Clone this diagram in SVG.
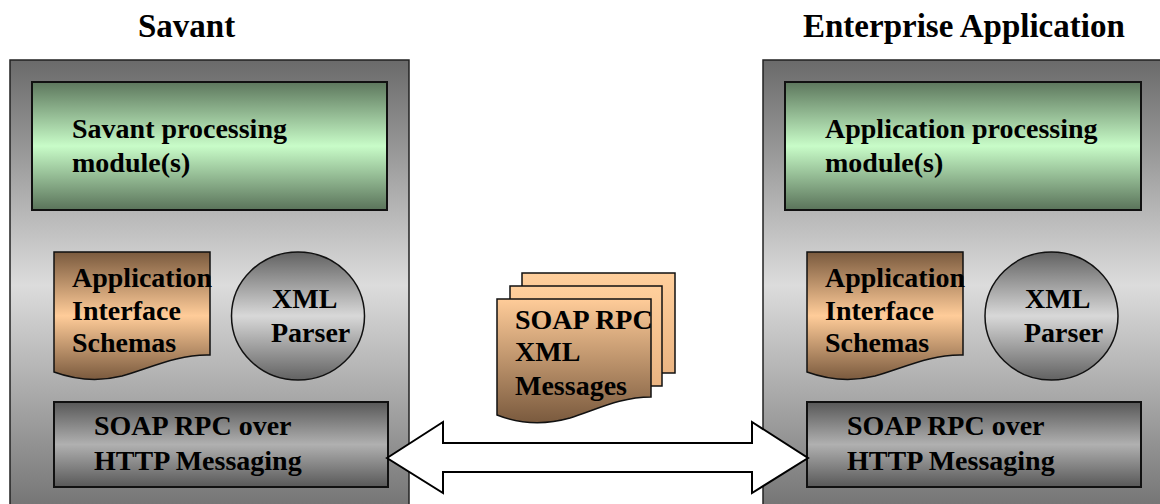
<svg xmlns="http://www.w3.org/2000/svg" width="1160" height="504" viewBox="0 0 1160 504">
  <defs>
    <linearGradient id="gOuter" x1="0" y1="0" x2="0" y2="1">
      <stop offset="0" stop-color="#6a6a6a"/>
      <stop offset="0.48" stop-color="#dcdcdc"/>
      <stop offset="1" stop-color="#6a6a6a"/>
    </linearGradient>
    <linearGradient id="gGreen" x1="0" y1="0" x2="0" y2="1">
      <stop offset="0" stop-color="#5d775d"/>
      <stop offset="0.5" stop-color="#c8fcc8"/>
      <stop offset="1" stop-color="#5a735a"/>
    </linearGradient>
    <linearGradient id="gGray" x1="0" y1="0" x2="0" y2="1">
      <stop offset="0" stop-color="#585858"/>
      <stop offset="0.5" stop-color="#b0b0b0"/>
      <stop offset="1" stop-color="#585858"/>
    </linearGradient>
    <linearGradient id="gCircle" x1="0" y1="0" x2="0" y2="1">
      <stop offset="0" stop-color="#626262"/>
      <stop offset="0.5" stop-color="#d8d8d8"/>
      <stop offset="1" stop-color="#626262"/>
    </linearGradient>
    <linearGradient id="gSchema" x1="0" y1="0" x2="0" y2="1">
      <stop offset="0" stop-color="#7a5a3e"/>
      <stop offset="0.5" stop-color="#ffcc99"/>
      <stop offset="1" stop-color="#7a5a3e"/>
    </linearGradient>
    <linearGradient id="gMsg" x1="0" y1="0" x2="0" y2="1">
      <stop offset="0" stop-color="#ffcc99"/>
      <stop offset="1" stop-color="#7a5a3e"/>
    </linearGradient>
    <linearGradient id="gMsgBack" x1="0" y1="0" x2="0" y2="1">
      <stop offset="0" stop-color="#ffcf9c"/>
      <stop offset="1" stop-color="#eab482"/>
    </linearGradient>
  </defs>
  <style>
    text { font-family: "Liberation Serif", "Times New Roman", serif; font-weight: bold; fill: #000; }
    .title { font-size: 33px; }
    .lbl { font-size: 28px; }
    .outer { fill: url(#gOuter); stroke: #222; stroke-width: 1.5; }
    .box { stroke: #111; stroke-width: 2; }
    .shape { stroke: #111; stroke-width: 1.5; }
    .arrow { fill: #fff; stroke: #000; stroke-width: 2; stroke-linejoin: miter; }
  </style>

  <rect width="1160" height="504" fill="#fff"/>

  <!-- Savant side -->
  <g id="savant">
    <text class="title" x="138" y="37">Savant</text>
    <rect class="outer" x="10" y="60" width="399" height="470"/>
  </g>
  <g id="savant-processing">
    <rect class="box" x="32" y="82" width="355" height="128" fill="url(#gGreen)"/>
    <text class="lbl" x="72" y="138">Savant processing</text>
    <text class="lbl" x="72" y="172">module(s)</text>
  </g>
  <g id="savant-schemas">
    <path class="shape" fill="url(#gSchema)" d="M54,252 H210 V355 C178,354 150,368 122,376 C98,382 76,380 54,372 Z"/>
    <text class="lbl" x="72" y="287">Application</text>
    <text class="lbl" x="72" y="320">Interface</text>
    <text class="lbl" x="72" y="352">Schemas</text>
  </g>
  <g id="savant-parser">
    <ellipse class="shape" cx="298" cy="316" rx="66.5" ry="64" fill="url(#gCircle)"/>
    <text class="lbl" x="272" y="308">XML</text>
    <text class="lbl" x="271" y="342">Parser</text>
  </g>
  <g id="savant-soap">
    <rect class="box" x="54" y="402" width="334" height="85" fill="url(#gGray)"/>
    <text class="lbl" x="94" y="435">SOAP RPC over</text>
    <text class="lbl" x="94" y="470">HTTP Messaging</text>
  </g>

  <!-- Enterprise Application side -->
  <g id="enterprise">
    <text class="title" x="803" y="37">Enterprise Application</text>
    <rect class="outer" x="763" y="60" width="410" height="470"/>
  </g>
  <g id="app-processing">
    <rect class="box" x="785" y="82" width="356" height="128" fill="url(#gGreen)"/>
    <text class="lbl" x="825" y="138">Application processing</text>
    <text class="lbl" x="825" y="172">module(s)</text>
  </g>
  <g id="app-schemas">
    <path class="shape" fill="url(#gSchema)" d="M807,252 H963 V355 C931,354 903,368 875,376 C851,382 829,380 807,372 Z"/>
    <text class="lbl" x="825" y="287">Application</text>
    <text class="lbl" x="825" y="320">Interface</text>
    <text class="lbl" x="825" y="352">Schemas</text>
  </g>
  <g id="app-parser">
    <ellipse class="shape" cx="1051.5" cy="316" rx="66.5" ry="64" fill="url(#gCircle)"/>
    <text class="lbl" x="1025" y="308">XML</text>
    <text class="lbl" x="1024" y="342">Parser</text>
  </g>
  <g id="app-soap">
    <rect class="box" x="807" y="402" width="334" height="85" fill="url(#gGray)"/>
    <text class="lbl" x="847" y="435">SOAP RPC over</text>
    <text class="lbl" x="847" y="470">HTTP Messaging</text>
  </g>

  <!-- Connectors -->
  <g id="connectors">
    <path class="arrow" d="M387,458 L443,422 V443 H752 V422 L808,458 L752,493 V472 H443 V493 Z"/>
  </g>

  <!-- SOAP message stack -->
  <g id="messages">
    <rect class="shape" x="522" y="273" width="153" height="100" fill="url(#gMsgBack)"/>
    <rect class="shape" x="510" y="286" width="152" height="100" fill="url(#gMsgBack)"/>
    <path class="shape" fill="url(#gMsg)" d="M497,299 H651 V397 C620,397 596,410 570,418 C545,425 520,424 497,415 Z"/>
    <text class="lbl" x="515" y="329">SOAP RPC</text>
    <text class="lbl" x="515" y="361">XML</text>
    <text class="lbl" x="515" y="395">Messages</text>
  </g>
</svg>
